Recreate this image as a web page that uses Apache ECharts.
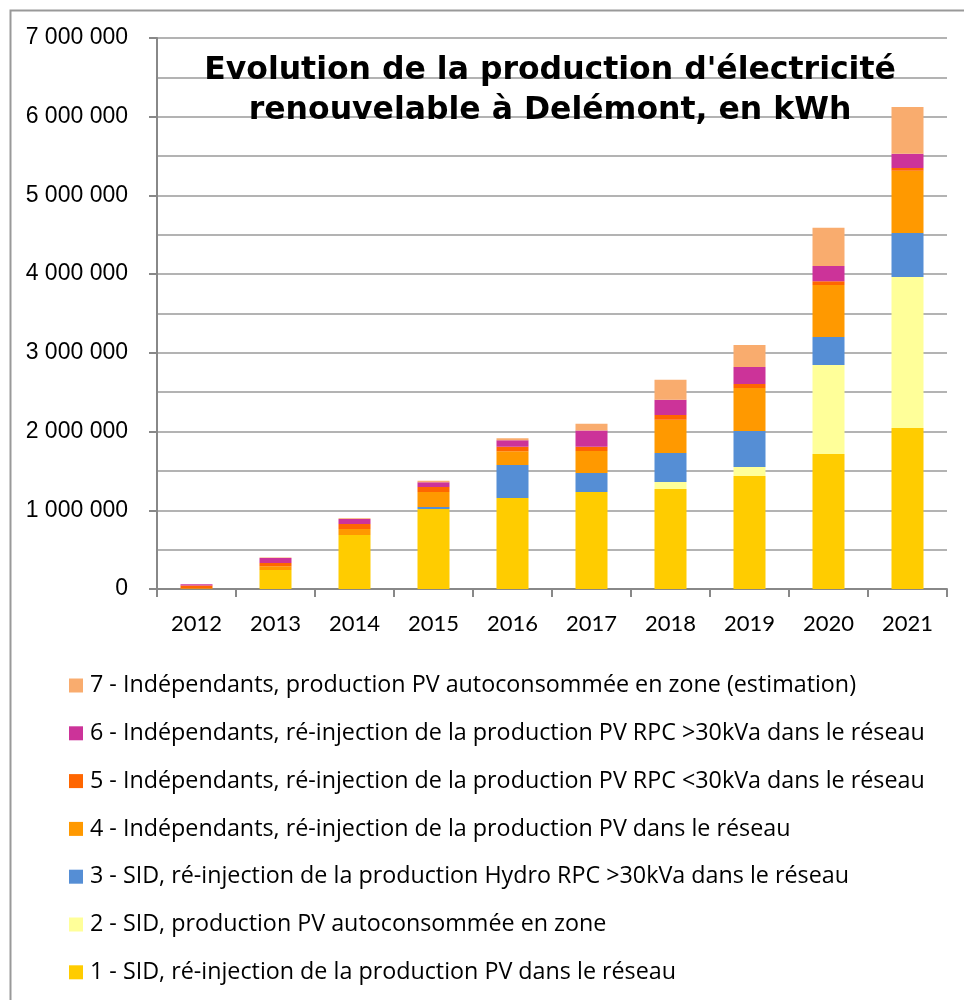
<!DOCTYPE html>
<html>
<head>
<meta charset="utf-8">
<script src="https://cdn.jsdelivr.net/npm/echarts@6/dist/echarts.min.js"></script>
<style>
  html, body { margin: 0; padding: 0; background: #fff; }
  #chart { width: 964px; height: 1000px; }
</style>
</head>
<body>
<div id="chart"></div>
<script>
  // years on the x axis
  let years = ['2012', '2013', '2014', '2015', '2016', '2017', '2018', '2019', '2020', '2021']

  // kWh per category
  let sidPvInjection = [5000, 240000, 686000, 1017000, 1156000, 1233000, 1271000, 1436000, 1715000, 2046000]
  let sidPvSelf = [0, 0, 0, 0, 0, 0, 89000, 114000, 1131000, 1919000]
  let sidHydro = [0, 0, 0, 25000, 420000, 240000, 369000, 457000, 356000, 559000]
  let indepPv = [0, 50000, 76000, 190000, 175000, 280000, 420000, 546000, 661000, 788000]
  let indepPvSmall = [40000, 40000, 64000, 64000, 55000, 55000, 60000, 51000, 47000, 38000]
  let indepPvLarge = [15000, 65000, 64000, 60000, 85000, 205000, 195000, 216000, 195000, 178000]
  let indepPvSelf = [0, 5000, 10000, 20000, 25000, 85000, 255000, 280000, 483000, 597000]

  let yTicks = [0, 1000000, 2000000, 3000000, 4000000, 5000000, 6000000, 7000000]

  let seriesNames = [
    '1 - SID, ré-injection de la production PV dans le réseau',
    '2 - SID, production PV autoconsommée en zone',
    '3 - SID, ré-injection de la production Hydro RPC >30kVa dans le réseau',
    '4 - Indépendants, ré-injection de la production PV dans le réseau',
    '5 - Indépendants, ré-injection de la production PV RPC <30kVa dans le réseau',
    '6 - Indépendants, ré-injection de la production PV RPC >30kVa dans le réseau',
    '7 - Indépendants, production PV autoconsommée en zone (estimation)'
  ]
  let seriesValues = [sidPvInjection, sidPvSelf, sidHydro, indepPv, indepPvSmall, indepPvLarge, indepPvSelf]
  let colors = ['#ffcc00', '#ffff99', '#558ed5', '#ff9900', '#ff6600', '#cc3399', '#f9ac6e']

  let chart = echarts.init(document.getElementById('chart'))

  function fmt(v) {
    return String(v).replace(/\B(?=(\d{3})+(?!\d))/g, ' ')
  }

  let series = seriesNames.map((name, i) => ({
    name: name,
    type: 'bar',
    stack: 'total',
    barWidth: 32,
    itemStyle: { color: colors[i] },
    emphasis: { disabled: true },
    data: seriesValues[i]
  }))

  let option = {
    animation: false,
    color: colors,
    title: {
      text: "Evolution de la production d'électricité\nrenouvelable à Delémont, en kWh",
      left: 545,
      top: 46,
      textAlign: 'center',
      textStyle: {
        fontFamily: 'DejaVu Sans',
        fontWeight: 'bold',
        fontSize: 31.5,
        lineHeight: 40,
        color: '#000'
      }
    },
    grid: {
      left: 157,
      right: 17,
      top: 38,
      bottom: 411,
      containLabel: false
    },
    legend: {
      orient: 'vertical',
      left: 64,
      top: 667,
      icon: 'rect',
      itemWidth: 14,
      itemHeight: 14,
      itemGap: 20.8,
      data: seriesNames.slice().reverse(),
      selectedMode: false,
      textStyle: {
        fontFamily: 'Open Sans',
        fontSize: 23.3,
        lineHeight: 27,
        color: '#000',
        padding: [0, 0, 0, 2]
      }
    },
    xAxis: {
      type: 'category',
      data: years,
      axisLine: { lineStyle: { color: '#888', width: 2 } },
      axisTick: { show: true, length: 8, lineStyle: { color: '#888', width: 2 } },
      axisLabel: { fontFamily: 'Lato', fontSize: 22, color: '#000', margin: 24 }
    },
    yAxis: [
      {
        type: 'value',
        min: 0,
        max: 7000000,
        interval: 1000000,
        axisLine: { show: true, lineStyle: { color: '#888', width: 2 } },
        axisTick: { show: true, length: 8, lineStyle: { color: '#888', width: 2 } },
        splitLine: { show: false },
        axisLabel: {
          fontFamily: 'Liberation Sans, Arial',
          fontSize: 23,
          color: '#000',
          margin: 29,
          formatter: v => yTicks.indexOf(v) >= 0 ? fmt(v) : ''
        }
      },
      {
        type: 'value',
        min: 0,
        max: 7000000,
        interval: 500000,
        position: 'left',
        axisLine: { show: false },
        axisTick: { show: false },
        axisLabel: { show: false },
        splitLine: { show: true, lineStyle: { color: '#b3b3b3', width: 2 } }
      }
    ],
    graphic: [
      {
        type: 'rect',
        left: 8,
        top: 8,
        z: -10,
        shape: { width: 1100, height: 1100 },
        style: { fill: 'none', stroke: '#999', lineWidth: 2 }
      }
    ],
    series: series
  }
  chart.setOption(option)
</script>
</body>
</html>
